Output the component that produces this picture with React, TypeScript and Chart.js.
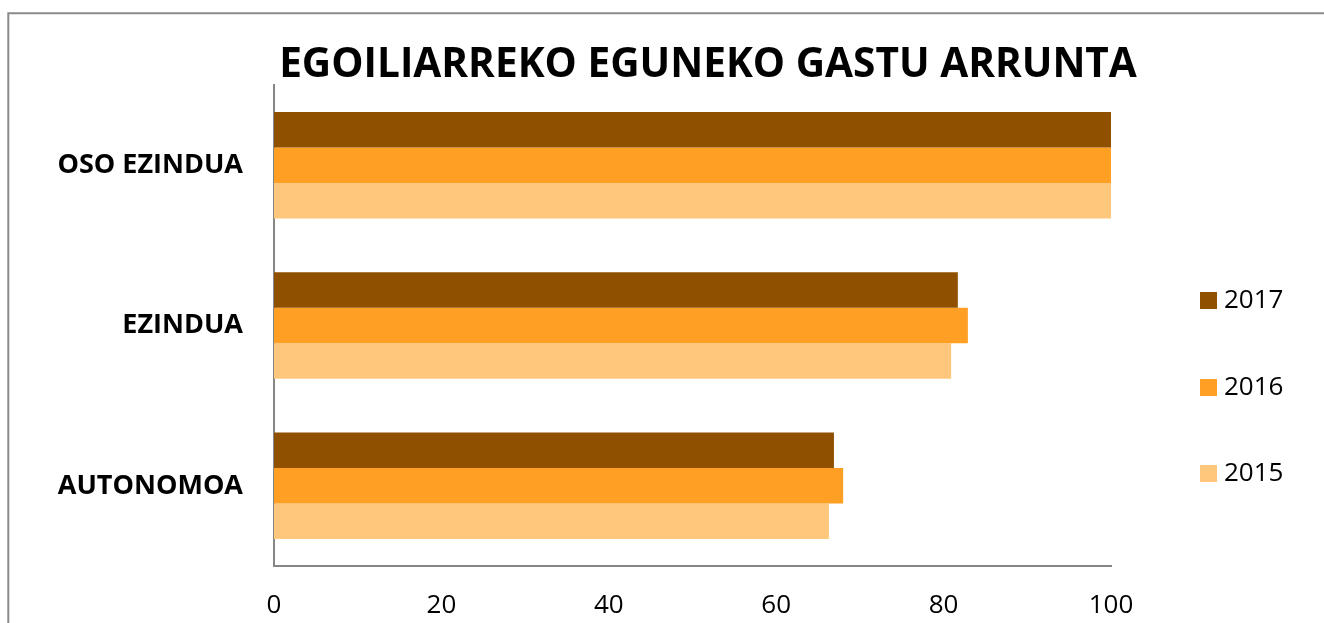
import React, { useEffect, useRef } from "react";
import { Chart, registerables } from "chart.js";

Chart.register(...registerables);

const chartTitle = "EGOILIARREKO EGUNEKO GASTU ARRUNTA";
const categories = ["OSO EZINDUA", "EZINDUA", "AUTONOMOA"];
const seriesNames = ["2017", "2016", "2015"];
const values2017 = [100, 81.7, 66.9];
const values2016 = [100, 82.9, 68.0];
const values2015 = [100, 80.9, 66.3];
const xTickValues = [0, 20, 40, 60, 80, 100];
const seriesColors = ["#8f5100", "#ffa024", "#ffc77c"];

const W = 1324;
const H = 623;
const FONT = '"Open Sans", "Noto Sans", sans-serif';

const framePlugin = {
  id: "frameAndTitle",
  beforeDraw(chart: any) {
    const ctx = chart.ctx;
    ctx.save();
    ctx.fillStyle = "#ffffff";
    ctx.fillRect(0, 0, W, H);
    ctx.strokeStyle = "#8a8a8a";
    ctx.lineWidth = 2;
    ctx.beginPath();
    ctx.moveTo(8.3, H + 10);
    ctx.lineTo(8.3, 13.2);
    ctx.lineTo(W + 10, 13.2);
    ctx.stroke();
    ctx.restore();
  },
  afterDraw(chart: any) {
    const ctx = chart.ctx;
    ctx.save();
    ctx.fillStyle = "#000000";
    ctx.font = `bold 40.6px ${FONT}`;
    ctx.textAlign = "center";
    ctx.textBaseline = "alphabetic";
    ctx.fillText(chartTitle, 708, 77);

    // legend
    const names = chart.data.datasets.map((d: any) => d.label);
    const tops = [292, 379, 465];
    ctx.font = `26px ${FONT}`;
    ctx.textAlign = "left";
    ctx.textBaseline = "middle";
    names.forEach((n: string, i: number) => {
      ctx.fillStyle = chart.data.datasets[i].backgroundColor;
      ctx.fillRect(1200, tops[i], 17, 17);
      ctx.fillStyle = "#000000";
      ctx.fillText(n, 1224, tops[i] + 9);
    });
    ctx.restore();
  },
};

export default function App() {
  const ref = useRef<HTMLCanvasElement | null>(null);

  useEffect(() => {
    if (!ref.current) return;
    const seriesValues = [values2017, values2016, values2015];
    const chart = new Chart(ref.current, {
      type: "bar",
      data: {
        labels: categories,
        datasets: seriesNames.map((name, i) => ({
          label: name,
          data: seriesValues[i],
          backgroundColor: seriesColors[i],
          borderWidth: 0,
          categoryPercentage: 0.664,
          barPercentage: 1.0,
        })),
      },
      options: {
        indexAxis: "y",
        animation: false,
        responsive: false,
        devicePixelRatio: 1,
        layout: { padding: { left: 0, right: 213, top: 85, bottom: 0 } },
        plugins: {
          legend: { display: false },
          title: { display: false },
          tooltip: { enabled: false },
        },
        scales: {
          x: {
            type: "linear",
            min: 0,
            max: 100,
            afterBuildTicks: (scale: any) => {
              scale.ticks = xTickValues.map((v) => ({ value: v }));
            },
            afterFit: (scale: any) => {
              scale.height = 57;
            },
            grid: { display: false, drawTicks: false },
            border: { display: true, color: "#868686", width: 2 },
            ticks: {
              padding: 24,
              color: "#000000",
              font: { family: FONT, size: 26 },
              maxRotation: 0,
            },
          },
          y: {
            type: "category",
            afterFit: (scale: any) => {
              scale.width = 274;
            },
            grid: { display: false, drawTicks: false },
            border: { display: true, color: "#868686", width: 2 },
            ticks: {
              padding: 31,
              color: "#000000",
              font: { family: FONT, size: 27, weight: "bold" },
            },
          },
        },
      },
      plugins: [framePlugin],
    });
    return () => chart.destroy();
  }, []);

  return (
    <div style={{ position: "fixed", left: 0, top: 0, width: W, height: H, background: "#fff" }}>
      <canvas ref={ref} width={W} height={H} style={{ width: W, height: H, display: "block" }} />
    </div>
  );
}
